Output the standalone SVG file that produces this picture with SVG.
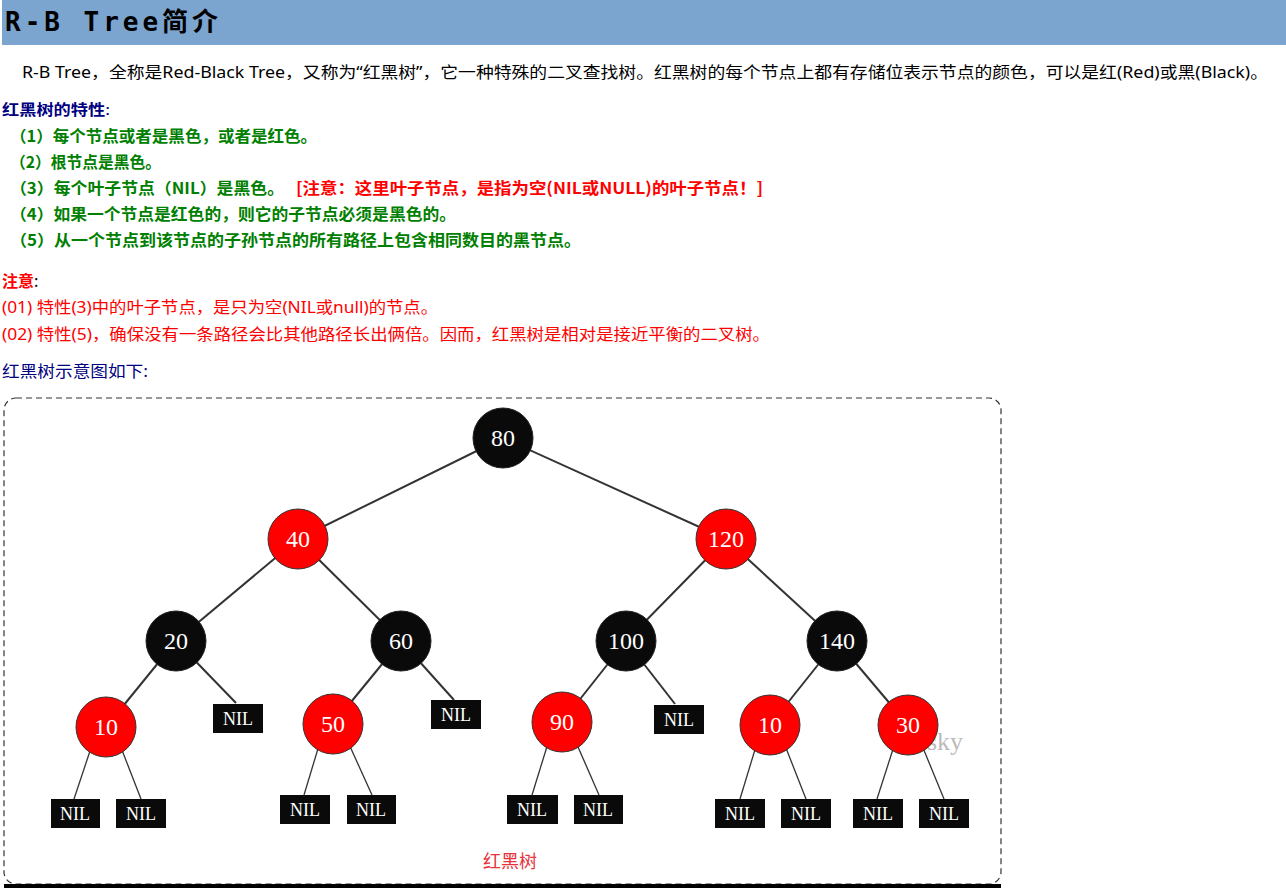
<svg xmlns="http://www.w3.org/2000/svg" width="1286" height="894" viewBox="0 0 1286 894">
<style>
.body{font-family:"Noto Sans","Noto Sans CJK SC",sans-serif;font-size:16px}
.cjk{font-family:"Noto Sans CJK SC","Noto Sans",sans-serif}
.b{fill:#0a0a0a;stroke:#222;stroke-width:1}
.r{fill:#ff0000;stroke:#333;stroke-width:1}
.lbl{font-family:"Liberation Serif","DejaVu Serif",serif;font-size:24px;fill:#fff;text-anchor:middle}
.nil{fill:#0a0a0a}
.nl{font-family:"Liberation Serif","DejaVu Serif",serif;font-size:18px;fill:#fff;text-anchor:middle}
.e{stroke:#333;stroke-width:2;fill:none}
.e2{stroke:#333;stroke-width:1.3;fill:none}
</style>
<rect width="1286" height="894" fill="#fff"/>
<g id="header">
<rect x="2" y="0" width="1284" height="45" fill="#7BA4CF"/>
<text x="5" y="31" font-family="DejaVu Sans Mono,Noto Sans CJK SC,monospace" font-weight="bold" font-size="26" textLength="213" lengthAdjust="spacing" fill="#000">R-B Tree简介</text>
</g>
<g id="intro">
<text class="body" x="22" y="78" fill="#000" textLength="1246" lengthAdjust="spacingAndGlyphs">R-B Tree，全称是Red-Black Tree，又称为“红黑树”，它一种特殊的二叉查找树。红黑树的每个节点上都有存储位表示节点的颜色，可以是红(Red)或黑(Black)。</text>
</g>
<g id="properties" class="cjk" font-weight="bold" font-size="16">
<text x="2" y="115" fill="#000080" font-size="15" textLength="108" lengthAdjust="spacingAndGlyphs">红黑树的特性<tspan font-weight="normal">:</tspan></text>
<text x="10" y="142" fill="#008000" textLength="307" lengthAdjust="spacingAndGlyphs">（1）每个节点或者是黑色，或者是红色。</text>
<text x="10" y="168" fill="#008000" textLength="151" lengthAdjust="spacingAndGlyphs">（2）根节点是黑色。</text>
<text x="10" y="194" fill="#008000" textLength="274" lengthAdjust="spacingAndGlyphs">（3）每个叶子节点（NIL）是黑色。</text>
<text x="296" y="194" fill="#ff0000" textLength="467" lengthAdjust="spacingAndGlyphs">[注意：这里叶子节点，是指为空(NIL或NULL)的叶子节点！]</text>
<text x="10" y="220" fill="#008000" textLength="446" lengthAdjust="spacingAndGlyphs">（4）如果一个节点是红色的，则它的子节点必须是黑色的。</text>
<text x="10" y="246" fill="#008000" textLength="571" lengthAdjust="spacingAndGlyphs">（5）从一个节点到该节点的子孙节点的所有路径上包含相同数目的黑节点。</text>
</g>
<g id="notes" class="body">
<text x="2" y="287" fill="#ff0000" font-weight="bold" font-size="16" class="cjk">注意<tspan fill="#000" font-weight="normal">:</tspan></text>
<text x="2" y="313" fill="#ff0000" textLength="436" lengthAdjust="spacingAndGlyphs">(01) 特性(3)中的叶子节点，是只为空(NIL或null)的节点。</text>
<text x="2" y="340" fill="#ff0000" textLength="768" lengthAdjust="spacingAndGlyphs">(02) 特性(5)，确保没有一条路径会比其他路径长出俩倍。因而，红黑树是相对是接近平衡的二叉树。</text>
<text x="2" y="377" fill="#000080" textLength="146" lengthAdjust="spacingAndGlyphs">红黑树示意图如下:</text>
</g>
<g id="frame">
<rect x="4" y="398" width="997" height="486" rx="12" ry="12" fill="none" stroke="#333" stroke-width="1.2" stroke-dasharray="6,4"/>
<rect x="4" y="884" width="997" height="4" fill="#000"/>
<text x="945" y="750" font-family="Liberation Serif,serif" font-size="26" fill="#bbb" text-anchor="middle">sky</text>
</g>
<g id="connectors">
<line class="e" x1="503" y1="438" x2="298" y2="539"/>
<line class="e" x1="503" y1="438" x2="726" y2="539"/>
<line class="e" x1="298" y1="539" x2="176" y2="641"/>
<line class="e" x1="298" y1="539" x2="401" y2="641"/>
<line class="e" x1="726" y1="539" x2="626" y2="641"/>
<line class="e" x1="726" y1="539" x2="837" y2="641"/>
<line class="e" x1="176" y1="641" x2="106" y2="727"/>
<line class="e" x1="176" y1="641" x2="236" y2="703"/>
<line class="e" x1="401" y1="641" x2="333" y2="724"/>
<line class="e" x1="401" y1="641" x2="454" y2="700"/>
<line class="e" x1="626" y1="641" x2="562" y2="722"/>
<line class="e" x1="626" y1="641" x2="675" y2="704"/>
<line class="e" x1="837" y1="641" x2="770" y2="725"/>
<line class="e" x1="837" y1="641" x2="908" y2="725"/>
<line class="e2" x1="92" y1="745" x2="74" y2="799"/>
<line class="e2" x1="120" y1="745" x2="141" y2="799"/>
<line class="e2" x1="320" y1="742" x2="304" y2="795"/>
<line class="e2" x1="348" y1="742" x2="372" y2="795"/>
<line class="e2" x1="549" y1="740" x2="532" y2="795"/>
<line class="e2" x1="575" y1="740" x2="599" y2="795"/>
<line class="e2" x1="757" y1="743" x2="740" y2="799"/>
<line class="e2" x1="784" y1="743" x2="806" y2="799"/>
<line class="e2" x1="895" y1="743" x2="877" y2="799"/>
<line class="e2" x1="921" y1="743" x2="944" y2="799"/>
</g>
<g id="n80"><circle class="b" cx="503" cy="438" r="30"/><text class="lbl" x="503" y="446">80</text></g>
<g id="n40"><circle class="r" cx="298" cy="539" r="30"/><text class="lbl" x="298" y="547">40</text></g>
<g id="n120"><circle class="r" cx="726" cy="539" r="30"/><text class="lbl" x="726" y="547">120</text></g>
<g id="n20"><circle class="b" cx="176" cy="641" r="30"/><text class="lbl" x="176" y="649">20</text></g>
<g id="n60"><circle class="b" cx="401" cy="641" r="30"/><text class="lbl" x="401" y="649">60</text></g>
<g id="n100"><circle class="b" cx="626" cy="641" r="30"/><text class="lbl" x="626" y="649">100</text></g>
<g id="n140"><circle class="b" cx="837" cy="641" r="30"/><text class="lbl" x="837" y="649">140</text></g>
<g id="n10a"><circle class="r" cx="106" cy="727" r="30"/><text class="lbl" x="106" y="735">10</text></g>
<g id="n50"><circle class="r" cx="333" cy="724" r="30"/><text class="lbl" x="333" y="732">50</text></g>
<g id="n90"><circle class="r" cx="562" cy="722" r="30"/><text class="lbl" x="562" y="730">90</text></g>
<g id="n10b"><circle class="r" cx="770" cy="725" r="30"/><text class="lbl" x="770" y="733">10</text></g>
<g id="n30"><circle class="r" cx="908" cy="725" r="30"/><text class="lbl" x="908" y="733">30</text></g>
<g id="nil1"><rect class="nil" x="213" y="704" width="50" height="29"/><text class="nl" x="238" y="725">NIL</text></g>
<g id="nil2"><rect class="nil" x="431" y="700" width="50" height="29"/><text class="nl" x="456" y="721">NIL</text></g>
<g id="nil3"><rect class="nil" x="654" y="705" width="50" height="29"/><text class="nl" x="679" y="726">NIL</text></g>
<g id="nil4"><rect class="nil" x="51" y="799" width="49" height="29"/><text class="nl" x="75" y="820">NIL</text></g>
<g id="nil5"><rect class="nil" x="116" y="799" width="50" height="29"/><text class="nl" x="141" y="820">NIL</text></g>
<g id="nil6"><rect class="nil" x="280" y="795" width="50" height="29"/><text class="nl" x="305" y="816">NIL</text></g>
<g id="nil7"><rect class="nil" x="347" y="795" width="49" height="29"/><text class="nl" x="371" y="816">NIL</text></g>
<g id="nil8"><rect class="nil" x="507" y="795" width="51" height="29"/><text class="nl" x="532" y="816">NIL</text></g>
<g id="nil9"><rect class="nil" x="574" y="795" width="49" height="29"/><text class="nl" x="598" y="816">NIL</text></g>
<g id="nil10"><rect class="nil" x="715" y="799" width="50" height="29"/><text class="nl" x="740" y="820">NIL</text></g>
<g id="nil11"><rect class="nil" x="781" y="799" width="50" height="29"/><text class="nl" x="806" y="820">NIL</text></g>
<g id="nil12"><rect class="nil" x="853" y="799" width="50" height="29"/><text class="nl" x="878" y="820">NIL</text></g>
<g id="nil13"><rect class="nil" x="919" y="799" width="50" height="29"/><text class="nl" x="944" y="820">NIL</text></g>
<g id="caption"><text x="510" y="868" class="cjk" font-size="18" fill="#e8333a" text-anchor="middle">红黑树</text></g>
</svg>
